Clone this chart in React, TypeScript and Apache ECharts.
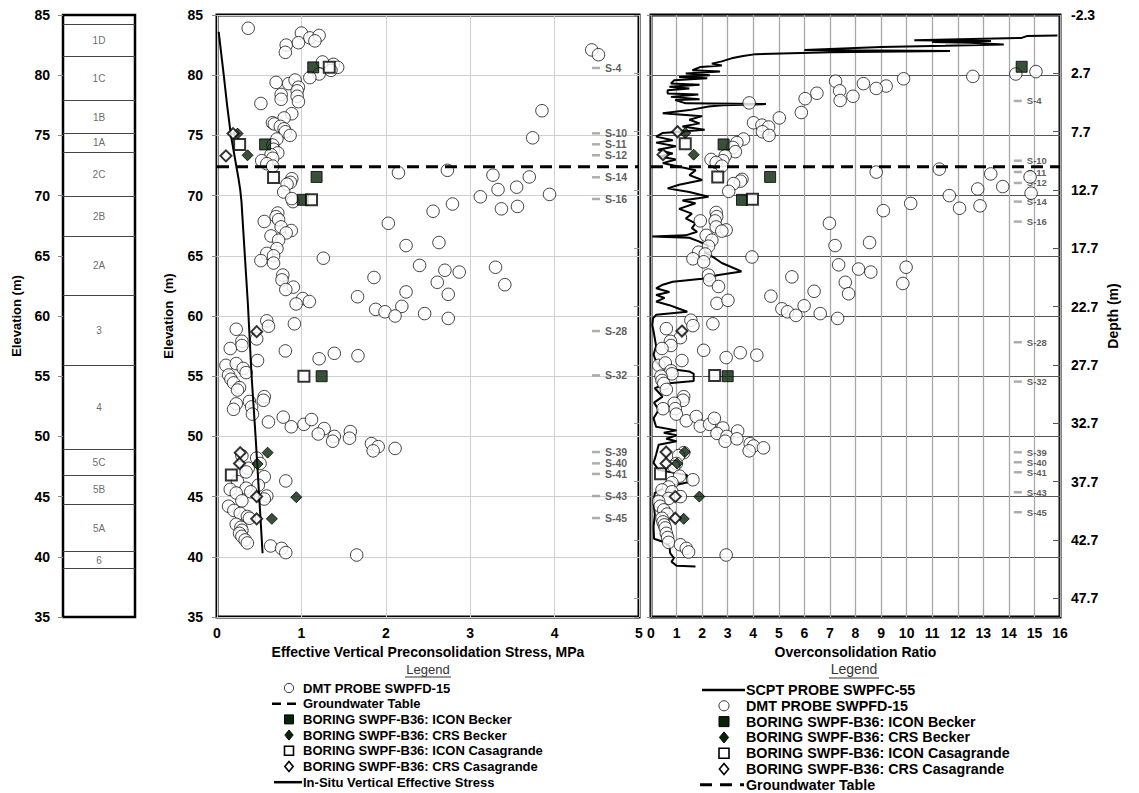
import React, { useEffect, useRef } from "react";
import * as echarts from "echarts";

const FONT = "'Liberation Sans', Arial, Helvetica, sans-serif";

// Stratigraphy (elevation of layer boundaries, m) and layer names
const layerBounds = [84.25, 81.54, 77.9, 75.14, 73.6, 69.94, 66.59, 61.72, 55.93, 48.93, 46.79, 44.36, 40.42, 39.04];
const layerNames = ["1D", "1C", "1B", "1A", "2C", "2B", "2A", "3", "4", "5C", "5B", "5A", "6"];

const groundwaterElev = 72.4;
const depthAtTop = -2.3; // depth (m) at elevation 85

// In-situ vertical effective stress [MPa, elevation]
const inSituStress = [
  [0.02, 83.6], [0.05, 81.8], [0.08, 80.0], [0.12, 77.5], [0.165, 75.0], [0.2, 73.6], [0.23, 72.4],
  [0.255, 71.4], [0.275, 70.5], [0.29, 69.5], [0.33, 65.0], [0.366, 61.0], [0.41, 55.0], [0.457, 50.0],
  [0.5, 45.0], [0.54, 40.3],
];

// DMT probe SWPFD-15: preconsolidation stress [MPa, elevation]
const dmtStress = [
  [0.37, 83.9], [1.0, 83.5], [1.1, 83.1], [1.21, 83.3], [1.16, 82.85], [0.82, 82.5], [0.81, 81.9], [0.965, 82.7],
  [1.25, 81.1], [1.38, 80.9], [1.43, 80.65], [1.35, 80.4], [1.21, 80.1], [1.1, 79.8], [0.7, 79.4], [0.85, 79.3],
  [0.925, 79.6], [0.965, 79.0], [0.95, 78.7], [0.76, 78.4], [0.76, 78.0], [0.95, 78.25], [0.965, 77.8], [0.52, 77.65],
  [0.886, 76.8], [0.795, 76.45], [0.657, 76.05], [0.68, 75.95], [0.75, 75.75], [0.795, 75.55], [0.81, 75.3], [0.866, 75.0],
  [0.71, 74.7], [0.66, 74.2], [0.67, 73.85], [0.72, 73.55], [0.64, 73.4], [0.66, 73.1], [0.53, 72.9], [0.59, 72.65],
  [0.66, 72.45], [0.886, 71.4], [0.87, 71.1], [0.83, 70.95], [0.79, 70.3], [0.9, 69.5], [0.886, 69.75], [0.72, 68.55],
  [0.7, 68.25], [0.56, 67.85], [0.73, 68.0], [0.76, 67.4], [0.88, 67.1], [0.82, 66.9], [0.64, 66.65], [0.73, 66.3],
  [0.71, 65.6], [0.59, 65.2], [0.67, 65.0], [0.52, 64.6], [0.67, 64.4], [1.26, 64.8], [0.78, 63.4], [0.77, 63.0],
  [0.905, 62.4], [0.815, 62.2], [1.016, 61.45], [1.094, 61.2], [0.937, 61.0],
  [2.15, 71.9], [2.73, 72.1], [3.27, 71.7], [3.7, 71.55], [3.55, 70.7], [3.33, 70.5], [3.12, 69.9], [3.94, 70.1],
  [3.37, 68.9], [3.56, 69.1], [2.79, 69.3], [2.56, 68.7], [2.03, 67.7], [2.24, 65.85], [2.63, 66.1], [2.4, 64.2],
  [2.7, 63.8], [2.87, 63.65], [1.86, 63.2], [2.61, 62.8], [3.3, 64.05], [3.41, 62.6], [2.24, 62.0], [2.74, 61.8],
  [1.665, 61.6], [1.88, 60.55], [1.99, 60.35], [2.19, 60.8], [2.11, 60.0], [2.46, 60.2], [2.74, 59.8],
  [4.44, 82.1], [4.52, 81.7], [3.85, 77.05], [3.74, 74.8],
  [0.59, 59.6], [0.61, 59.15], [0.228, 58.9], [0.917, 59.35], [0.47, 58.1], [0.295, 57.9], [0.295, 57.55], [0.157, 57.3],
  [0.81, 57.1], [0.48, 56.3], [1.21, 56.45], [1.39, 56.9], [1.67, 56.7], [0.106, 55.9], [0.228, 56.05], [0.31, 55.65],
  [0.345, 55.3], [0.137, 55.1], [0.165, 54.75], [0.196, 54.45], [0.267, 54.05], [0.243, 53.85], [0.56, 53.3], [0.55, 53.0],
  [0.228, 52.7], [0.196, 52.25], [0.384, 52.9], [0.41, 52.45], [0.42, 51.85], [0.61, 51.2], [0.785, 51.6], [0.88, 50.8],
  [1.03, 51.0], [1.12, 51.4], [1.27, 50.65], [1.2, 50.2], [1.39, 50.0], [1.37, 49.6], [1.58, 50.4], [1.57, 49.85],
  [1.83, 49.4], [1.91, 49.15], [1.85, 48.8], [2.11, 49.0],
  [0.295, 48.4], [0.47, 48.2], [0.51, 47.75], [0.37, 47.35], [0.345, 47.05], [0.56, 46.65], [0.243, 46.25], [0.49, 45.95],
  [0.815, 46.3], [0.345, 45.7], [0.157, 45.6], [0.4, 45.4], [0.228, 45.3], [0.59, 45.05], [0.56, 44.8], [0.295, 44.65],
  [0.137, 44.2], [0.2, 43.85], [0.275, 43.6], [0.36, 43.35], [0.384, 43.2], [0.228, 42.7], [0.283, 42.45], [0.295, 42.2],
  [0.267, 41.95], [0.295, 41.7], [0.333, 41.4], [0.36, 41.15], [0.635, 40.9], [0.765, 40.7], [0.815, 40.35], [1.655, 40.15],
];

// Boring SWPF-B36 results: preconsolidation stress [MPa, elevation]
const iconBeckerStress = [[1.14, 80.65], [0.57, 74.25], [1.18, 71.55], [1.016, 69.65], [1.24, 55.0]];
const crsBeckerStress = [[0.244, 75.15], [0.362, 73.35], [0.6, 48.65], [0.48, 47.7], [0.94, 44.95], [0.65, 43.15]];
const iconCasaStress = [[1.33, 80.65], [0.268, 74.25], [0.67, 71.5], [1.12, 69.65], [1.03, 55.0], [0.17, 46.8]];
const crsCasaStress = [[0.19, 75.15], [0.106, 73.3], [0.47, 58.7], [0.275, 48.65], [0.267, 47.75], [0.47, 45.0], [0.47, 43.15]];

// DMT probe SWPFD-15: OCR [OCR, elevation]
const dmtOcr = [
  [15.06, 80.3], [14.27, 80.1], [12.59, 79.9], [9.88, 79.7], [9.2, 79.1], [8.81, 78.9], [8.31, 79.3], [7.22, 79.5],
  [7.38, 78.7], [7.4, 77.9], [7.9, 78.25], [6.49, 78.5], [6.03, 78.05], [5.88, 76.9], [5.02, 76.45], [3.84, 77.7],
  [4.01, 76.05], [4.34, 75.85], [4.6, 75.7], [4.36, 75.3], [4.62, 75.0], [3.62, 74.7], [3.36, 74.4], [3.2, 74.0],
  [3.3, 73.65], [2.9, 73.3], [2.81, 72.9], [2.35, 73.0], [2.55, 72.75], [2.77, 72.45], [8.81, 71.95], [11.28, 72.2],
  [13.29, 71.8], [14.83, 71.55], [12.78, 70.55], [13.76, 70.75], [14.87, 70.2], [11.67, 70.0], [12.07, 68.95], [12.87, 69.15],
  [10.16, 69.35], [9.09, 68.75], [3.56, 71.35], [3.5, 71.2], [3.23, 71.0], [3.04, 70.35], [2.55, 68.6], [2.57, 68.25],
  [1.93, 67.9], [2.51, 67.9], [2.55, 67.4], [2.94, 67.15], [2.77, 67.05], [2.16, 66.7], [2.38, 66.3], [2.25, 65.8],
  [1.86, 65.3], [2.12, 65.15], [1.64, 64.75], [2.06, 64.5], [3.95, 64.9], [6.98, 67.7], [7.2, 65.85], [8.55, 66.1],
  [7.34, 64.25], [8.12, 63.9], [8.6, 63.65], [9.98, 64.05], [9.85, 62.7], [7.6, 62.8], [7.73, 61.85], [5.51, 63.25],
  [6.38, 62.05], [4.69, 61.65], [2.25, 63.4], [2.29, 63.0], [2.64, 62.45], [2.58, 61.05], [3.01, 61.3], [5.12, 60.6],
  [5.34, 60.35], [5.67, 60.05], [5.99, 60.85], [6.62, 60.2], [7.3, 59.8],
  [1.56, 59.65], [1.64, 59.2], [2.42, 59.35], [0.6, 58.95], [1.15, 58.2], [0.76, 57.9], [0.78, 57.55], [0.43, 57.3],
  [1.21, 56.3], [2.06, 57.15], [2.94, 56.55], [3.49, 56.95], [4.14, 56.75], [0.3, 55.9], [0.56, 56.1], [0.78, 55.45],
  [0.82, 55.2], [0.39, 55.0], [0.43, 54.65], [0.5, 54.4], [0.6, 53.9], [1.28, 53.3], [1.25, 53.0], [0.47, 52.3],
  [0.91, 52.75], [0.95, 52.3], [0.99, 51.85], [1.38, 51.3], [1.77, 51.65], [1.93, 50.85], [2.29, 51.0], [2.48, 51.5],
  [2.81, 50.7], [2.58, 50.25], [2.97, 50.0], [2.9, 49.6], [3.39, 50.45], [3.36, 49.8], [3.88, 49.4], [4.01, 49.2],
  [3.84, 48.8], [4.4, 49.05], [1.28, 48.65], [1.08, 48.4], [0.99, 47.75], [0.89, 47.5], [1.12, 46.7], [1.64, 46.4],
  [0.82, 46.15], [0.69, 45.8], [0.43, 45.55], [0.82, 45.4], [1.15, 45.0], [0.69, 44.85], [0.3, 44.6], [0.36, 44.2],
  [0.5, 43.9], [0.63, 43.55], [0.43, 43.2], [0.47, 42.9], [0.52, 42.65], [0.56, 42.4], [0.6, 41.95], [0.65, 41.6],
  [0.69, 41.2], [1.15, 41.0], [1.38, 40.7], [1.47, 40.4], [2.94, 40.15],
];

// Boring SWPF-B36 results: OCR [OCR, elevation]
const iconBeckerOcr = [[14.5, 80.7], [2.84, 74.25], [4.66, 71.55], [3.56, 69.65], [3.0, 55.0]];
const crsBeckerOcr = [[1.34, 75.2], [1.67, 73.4], [1.32, 48.7], [1.02, 47.75], [1.89, 45.0], [1.28, 43.15]];
const iconCasaOcr = [[1.34, 74.3], [2.61, 71.55], [3.97, 69.7], [2.49, 55.05], [0.37, 46.9]];
const crsCasaOcr = [[1.04, 75.3], [0.47, 73.4], [1.21, 58.75], [0.59, 48.7], [0.59, 47.75], [0.95, 45.0], [0.95, 43.2]];

// SCPT probe SWPFC-55: OCR profile [OCR, elevation]
const scptOcr = [
  [15.9, 83.3], [14.7, 83.25], [14.5, 83.1], [10.3, 82.9], [13.3, 82.85], [11.0, 82.75], [12.5, 82.7], [13.8, 82.55],
  [11.5, 82.45], [9.0, 82.35], [6.0, 82.1], [11.7, 82.0], [7.0, 81.9], [4.1, 81.75], [3.6, 81.6], [3.15, 81.4],
  [2.77, 81.15], [2.38, 80.96], [2.77, 80.8], [1.94, 80.69], [1.62, 80.41], [2.7, 80.3], [1.36, 80.14], [2.3, 80.0],
  [1.1, 79.86], [2.2, 79.75], [0.91, 79.59], [0.78, 79.31], [1.9, 79.2], [0.72, 79.04], [1.5, 78.9], [0.65, 78.76],
  [0.65, 78.49], [1.85, 78.4], [0.78, 78.2], [1.9, 78.0], [0.95, 77.94], [1.36, 77.66], [4.5, 77.6], [2.8, 77.5],
  [2.25, 77.4], [1.5, 77.1], [0.46, 76.84], [2.0, 76.6], [1.5, 76.3], [1.9, 76.0], [1.23, 75.74], [2.1, 75.47],
  [0.46, 75.2], [0.2, 74.9], [0.85, 74.6], [0.2, 74.4], [0.97, 74.1], [0.27, 73.8], [0.85, 73.5], [0.33, 73.27],
  [0.97, 73.0], [0.46, 72.7], [1.1, 72.4], [1.75, 72.1], [1.5, 71.7], [2.0, 71.3], [1.1, 70.9], [0.65, 70.6],
  [1.5, 70.3], [2.25, 69.9], [1.23, 69.6], [1.74, 69.36], [1.1, 68.9], [1.6, 68.5], [1.36, 68.1], [1.74, 67.7],
  [1.6, 67.3], [1.8, 67.0], [1.36, 66.7], [0.05, 66.6], [1.5, 66.5], [1.87, 66.2], [2.25, 65.8], [2.1, 65.3],
  [2.5, 64.8], [2.77, 64.4], [3.54, 63.7], [2.64, 63.4], [2.0, 63.1], [0.85, 62.85], [0.46, 62.6], [0.2, 62.3],
  [0.72, 62.0], [0.2, 61.75], [0.53, 61.5], [0.2, 61.2], [0.72, 60.9], [1.1, 60.6], [1.42, 60.36], [0.2, 60.1],
  [0.08, 59.8], [0.05, 59.25], [0.12, 58.5], [0.2, 57.5], [0.1, 56.8], [0.2, 56.2], [0.4, 55.7], [1.5, 55.4],
  [1.67, 55.2], [1.67, 54.6], [0.6, 54.4], [0.15, 54.0], [0.45, 53.3], [0.12, 52.8], [0.3, 52.2], [0.1, 51.5],
  [0.2, 50.8], [1.0, 50.5], [0.5, 50.3], [1.0, 50.1], [0.6, 49.8], [1.0, 49.6], [0.3, 49.3], [0.2, 48.5],
  [0.1, 47.8], [0.3, 47.2], [1.4, 46.8], [1.45, 46.2], [0.6, 45.8], [0.15, 45.3], [0.1, 44.5], [0.15, 43.5],
  [0.1, 42.5], [0.12, 41.5], [0.46, 41.25], [0.72, 40.9], [0.75, 40.3], [0.9, 39.9], [0.8, 39.6], [1.0, 39.25],
  [1.74, 39.2],
];

// Sample labels
const sampleNames = ["S-4", "S-10", "S-11", "S-12", "S-14", "S-16", "S-28", "S-32", "S-39", "S-40", "S-41", "S-43", "S-45"];
const sampleElevStress = [80.6, 75.17, 74.26, 73.35, 71.52, 69.72, 58.75, 55.07, 48.7, 47.76, 46.88, 45.05, 43.22];
const sampleElevOcr = [77.86, 72.9, 71.96, 71.05, 69.5, 67.84, 57.82, 54.55, 48.68, 47.85, 47.02, 45.36, 43.7];
const sampleXStress = 4.49;
const sampleXOcr = 14.35;

const DARK = "#072407";

export default function App() {
  const ref = useRef<HTMLDivElement>(null);

  useEffect(() => {
    if (!ref.current) return;
    const chart = echarts.init(ref.current, undefined, { renderer: "svg" });

    const tickLabel = { color: "#000", fontFamily: FONT, fontWeight: "bold", fontSize: 14 };
    const nameStyle = { color: "#000", fontFamily: FONT, fontWeight: "bold", fontSize: 14 };

    const circle = (data: number[][], xi: number, yi: number) => ({
      type: "scatter", xAxisIndex: xi, yAxisIndex: yi, data, symbol: "circle", symbolSize: 12.5, z: 3,
      itemStyle: { color: "#fff", borderColor: "#111", borderWidth: 1 },
    });
    const mark = (data: number[][], xi: number, yi: number, symbol: string, filled: boolean, size: number) => ({
      type: "scatter", xAxisIndex: xi, yAxisIndex: yi, data, symbol, symbolSize: size, z: 5,
      itemStyle: filled
        ? { color: DARK, borderColor: "#000", borderWidth: 1 }
        : { color: "#fff", borderColor: "#000", borderWidth: 2 },
    });
    const samples = (elevs: number[], x: number, xi: number, yi: number, fs: number) => ({
      type: "scatter", xAxisIndex: xi, yAxisIndex: yi, z: 2,
      data: elevs.map((e, i) => [x, e, sampleNames[i]]),
      symbol: "rect", symbolSize: [8, 2.5],
      itemStyle: { color: "#999" },
      labelLayout: { hideOverlap: false },
      label: {
        show: true, position: "right", distance: 5, formatter: (p: any) => p.data[2],
        fontFamily: FONT, fontWeight: "bold", fontSize: fs, lineHeight: fs, color: "#333",
      },
    });

    const layerMid = layerNames.map((n, i) => [0.5, (layerBounds[i] + layerBounds[i + 1]) / 2, n]);

    const legendRowsA = [
      "DMT PROBE SWPFD-15", "Groundwater Table", "BORING SWPF-B36: ICON Becker", "BORING SWPF-B36: CRS Becker",
      "BORING SWPF-B36: ICON Casagrande", "BORING SWPF-B36: CRS Casagrande", "In-Situ Vertical Effective Stress",
    ];
    const legendRowsB = [
      "SCPT PROBE SWPFC-55", "DMT PROBE SWPFD-15", "BORING SWPF-B36: ICON Becker", "BORING SWPF-B36: CRS Becker",
      "BORING SWPF-B36: ICON Casagrande", "BORING SWPF-B36: CRS Casagrande", "Groundwater Table",
    ];

    const sym = (kind: string, cx: number, cy: number, s: number): any => {
      const open = { fill: "#fff", stroke: "#000", lineWidth: 1.6 };
      const fill = { fill: DARK, stroke: "#000", lineWidth: 1 };
      switch (kind) {
        case "circle": return { type: "circle", shape: { cx, cy, r: s * 0.42 }, style: { fill: "#fff", stroke: "#333", lineWidth: 1 } };
        case "fsq": return { type: "rect", shape: { x: cx - s / 2, y: cy - s / 2, width: s, height: s }, style: fill };
        case "osq": return { type: "rect", shape: { x: cx - s / 2, y: cy - s / 2, width: s, height: s }, style: open };
        case "fdi": return { type: "polygon", shape: { points: [[cx, cy - s / 2], [cx + s / 2.4, cy], [cx, cy + s / 2], [cx - s / 2.4, cy]] }, style: fill };
        case "odi": return { type: "polygon", shape: { points: [[cx, cy - s / 2], [cx + s / 2.4, cy], [cx, cy + s / 2], [cx - s / 2.4, cy]] }, style: open };
        default: return null;
      }
    };

    const legendA: any[] = [];
    const ayA = [688, 703.7, 719.4, 735.1, 750.8, 766.5, 782.2];
    legendA.push({ type: "text", x: 428, y: 669, style: { text: "Legend", font: `13px ${FONT}`, fill: "#333", textAlign: "center", textVerticalAlign: "middle" } });
    legendA.push({ type: "line", shape: { x1: 405, y1: 677, x2: 451, y2: 677 }, style: { stroke: "#333", lineWidth: 1 } });
    legendRowsA.forEach((t, i) => {
      legendA.push({ type: "text", x: 303, y: ayA[i], style: { text: t, font: `bold 13px ${FONT}`, fill: "#000", textVerticalAlign: "middle" } });
    });
    legendA.push(sym("circle", 289, ayA[0], 11));
    legendA.push({ type: "line", shape: { x1: 272, y1: ayA[1], x2: 300, y2: ayA[1] }, style: { stroke: "#000", lineWidth: 2.5, lineDash: [9, 6] } });
    legendA.push(sym("fsq", 289, ayA[2], 9));
    legendA.push(sym("fdi", 289, ayA[3], 10));
    legendA.push(sym("osq", 289, ayA[4], 9));
    legendA.push(sym("odi", 289, ayA[5], 10));
    legendA.push({ type: "line", shape: { x1: 274, y1: ayA[6], x2: 302, y2: ayA[6] }, style: { stroke: "#000", lineWidth: 2.5 } });

    const legendB: any[] = [];
    const ayB = [690, 705.8, 721.6, 737.4, 753.2, 769, 784.8];
    legendB.push({ type: "text", x: 854, y: 669, style: { text: "Legend", font: `14px ${FONT}`, fill: "#333", textAlign: "center", textVerticalAlign: "middle" } });
    legendB.push({ type: "line", shape: { x1: 829, y1: 678, x2: 879, y2: 678 }, style: { stroke: "#333", lineWidth: 1 } });
    legendRowsB.forEach((t, i) => {
      legendB.push({ type: "text", x: 746, y: ayB[i], style: { text: t, font: `bold 14.3px ${FONT}`, fill: "#000", textVerticalAlign: "middle" } });
    });
    legendB.push({ type: "line", shape: { x1: 702, y1: ayB[0], x2: 745, y2: ayB[0] }, style: { stroke: "#000", lineWidth: 2.5 } });
    legendB.push(sym("circle", 724, ayB[1], 12));
    legendB.push(sym("fsq", 724, ayB[2], 10));
    legendB.push(sym("fdi", 724, ayB[3], 11));
    legendB.push(sym("osq", 724, ayB[4], 10));
    legendB.push(sym("odi", 724, ayB[5], 11));
    legendB.push({ type: "line", shape: { x1: 700, y1: ayB[6], x2: 744, y2: ayB[6] }, style: { stroke: "#000", lineWidth: 3, lineDash: [12, 8] } });

    const depthFmt = (v: number) => (v + depthAtTop).toFixed(1);

    const option: any = {
      animation: false,
      backgroundColor: "#fff",
      textStyle: { fontFamily: FONT },
      grid: [
        { left: 63, top: 15, width: 72, height: 602, show: true, borderColor: "#000", borderWidth: 2.5, backgroundColor: "transparent" },
        { left: 217, top: 15, width: 422, height: 602, show: true, borderColor: "#000", borderWidth: 3, backgroundColor: "transparent" },
        { left: 651, top: 15, width: 409, height: 602, show: true, borderColor: "#000", borderWidth: 3, backgroundColor: "transparent" },
      ],
      xAxis: [
        { gridIndex: 0, type: "value", min: 0, max: 1, show: false },
        {
          gridIndex: 1, type: "value", min: 0, max: 5, interval: 1,
          axisLine: { show: false }, axisTick: { show: false },
          axisLabel: { ...tickLabel, margin: 9 },
          splitLine: { show: true, lineStyle: { color: "#cfcfcf", width: 1 } },
          name: "Effective Vertical Preconsolidation Stress, MPa", nameLocation: "middle", nameGap: 27, nameTextStyle: nameStyle,
        },
        {
          gridIndex: 2, type: "value", min: 0, max: 16, interval: 1,
          axisLine: { show: false }, axisTick: { show: false },
          axisLabel: { ...tickLabel, margin: 9 },
          splitLine: { show: true, lineStyle: { color: "#a8a8a8", width: 1.3 } },
          name: "Overconsolidation Ratio", nameLocation: "middle", nameGap: 27, nameTextStyle: nameStyle,
        },
      ],
      yAxis: [
        {
          gridIndex: 0, type: "value", min: 35, max: 85, interval: 5,
          axisLine: { show: false }, axisTick: { show: true, length: 5, lineStyle: { color: "#888" } },
          axisLabel: { ...tickLabel, margin: 13 }, splitLine: { show: false },
          name: "Elevation (m)", nameLocation: "middle", nameGap: 40, nameRotate: 90, nameTextStyle: { ...nameStyle, fontSize: 13 },
        },
        {
          gridIndex: 1, type: "value", min: 35, max: 85, interval: 5,
          axisLine: { show: false }, axisTick: { show: true, length: 5, lineStyle: { color: "#888" } },
          axisLabel: { ...tickLabel, margin: 14 },
          splitLine: { show: true, lineStyle: { color: "#cfcfcf", width: 1 } },
          name: "Elevation  (m)", nameLocation: "middle", nameGap: 42, nameRotate: 90, nameTextStyle: { ...nameStyle, fontSize: 13 },
        },
        {
          gridIndex: 1, type: "value", position: "right", inverse: true, min: 0, max: 51.6, interval: 5,
          axisLine: { show: false }, axisTick: { show: true, inside: true, length: 5, lineStyle: { color: "#999" } },
          axisLabel: { show: false }, splitLine: { show: false },
        },
        {
          gridIndex: 2, type: "value", position: "left", min: 35, max: 85, interval: 5,
          axisLine: { show: false }, axisTick: { show: true, length: 4, lineStyle: { color: "#888" } },
          axisLabel: { show: false },
          splitLine: { show: true, lineStyle: { color: "#555", width: 1 } },
        },
        {
          gridIndex: 2, type: "value", position: "right", inverse: true, min: 0, max: 51.6, interval: 5,
          axisLine: { show: false }, axisTick: { show: true, inside: true, length: 7, lineStyle: { color: "#555" } },
          axisLabel: { ...tickLabel, margin: 11, formatter: depthFmt, showMaxLabel: false },
          splitLine: { show: false },
          name: "Depth (m)", nameLocation: "middle", nameGap: 46, nameRotate: 90, nameTextStyle: nameStyle,
        },
      ],
      series: [
        // stratigraphy column
        {
          type: "line", xAxisIndex: 0, yAxisIndex: 0, data: [], showSymbol: false,
          markLine: {
            silent: true, symbol: "none", label: { show: false },
            lineStyle: { color: "#444", width: 1.2, type: "solid" },
            data: layerBounds.map((b) => ({ yAxis: b })),
          },
        },
        {
          type: "scatter", xAxisIndex: 0, yAxisIndex: 0, data: layerMid, symbolSize: 0,
          label: { show: true, position: "inside", formatter: (p: any) => p.data[2], fontFamily: FONT, fontSize: 10, color: "#444" },
        },
        // middle panel
        {
          type: "line", xAxisIndex: 1, yAxisIndex: 1, data: [[0, groundwaterElev], [5, groundwaterElev]],
          showSymbol: false, z: 4, lineStyle: { color: "#000", width: 3, type: [12, 7] },
        },
        circle(dmtStress, 1, 1),
        {
          type: "line", xAxisIndex: 1, yAxisIndex: 1, data: inSituStress, showSymbol: false, smooth: false, z: 4,
          lineStyle: { color: "#000", width: 2 },
        },
        mark(iconBeckerStress, 1, 1, "rect", true, 11),
        mark(crsBeckerStress, 1, 1, "diamond", true, 11),
        mark(iconCasaStress, 1, 1, "rect", false, 11),
        mark(crsCasaStress, 1, 1, "diamond", false, 11),
        samples(sampleElevStress, sampleXStress, 1, 1, 10.5),
        // right panel
        {
          type: "line", xAxisIndex: 2, yAxisIndex: 3, data: scptOcr, showSymbol: false, z: 2,
          lineStyle: { color: "#000", width: 2 },
        },
        {
          type: "line", xAxisIndex: 2, yAxisIndex: 3, data: [[0, groundwaterElev], [16, groundwaterElev]],
          showSymbol: false, z: 4, lineStyle: { color: "#000", width: 3, type: [12, 7] },
        },
        circle(dmtOcr, 2, 3),
        mark(iconBeckerOcr, 2, 3, "rect", true, 11),
        mark(crsBeckerOcr, 2, 3, "diamond", true, 11),
        mark(iconCasaOcr, 2, 3, "rect", false, 11),
        mark(crsCasaOcr, 2, 3, "diamond", false, 11),
        samples(sampleElevOcr, sampleXOcr, 2, 3, 9.5),
      ],
      graphic: [...legendA, ...legendB],
    };

    chart.setOption(option);
    return () => chart.dispose();
  }, []);

  return (
    <div
      ref={ref}
      style={{ position: "absolute", left: 0, top: 0, width: 1139, height: 793, background: "#fff" }}
    />
  );
}
